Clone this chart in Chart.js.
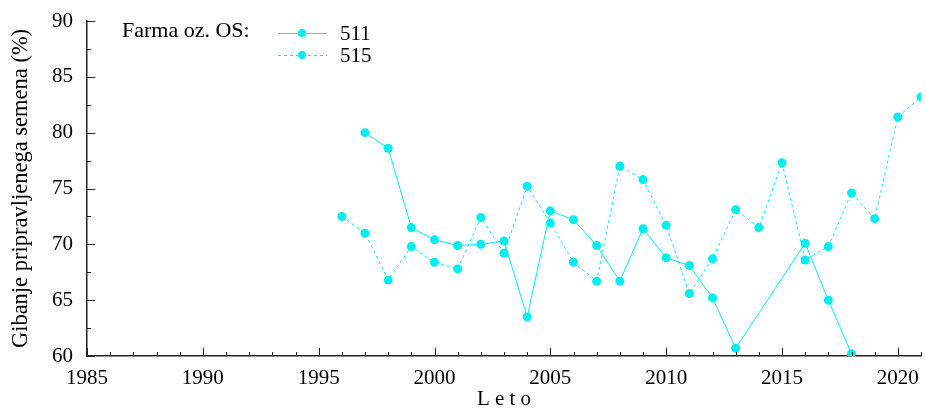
<!DOCTYPE html>
<html>
<head>
<meta charset="utf-8">
<script src="https://cdn.jsdelivr.net/npm/chart.js@4.4.0/dist/chart.umd.min.js"></script>
<style>
  html, body { margin: 0; padding: 0; background: #fff; }
  #wrap { width: 926px; height: 408px; }
</style>
</head>
<body>
<div id="wrap"><canvas id="chart"></canvas></div>
<script>
// Data
const years = [1996, 1997, 1998, 1999, 2000, 2001, 2002, 2003, 2004, 2005, 2006, 2007, 2008,
    2009, 2010, 2011, 2012, 2013, 2014, 2015, 2016, 2017, 2018, 2019, 2020, 2021];
const farm511 = [null, 80.0, 78.6, 71.5, 70.4, 69.9, 70.0, 70.3, 63.5, 73.0, 72.2, 69.9, 66.7,
    71.4, 68.8, 68.1, 65.2, 60.7, null, null, 70.1, 65.0, 60.2, null, null, null];
const farm515 = [72.5, 71.0, 66.8, 69.8, 68.4, 67.8, 72.4, 69.2, 75.2, 71.9, 68.4, 66.7, 77.0,
    75.8, 71.7, 65.6, 68.7, 73.1, 71.5, 77.3, 68.6, 69.8, 74.6, 72.3, 81.4, 83.2];
const seriesLabels = ['511', '515'];
const legendTitle = 'Farma oz. OS:';
const xTicks = [1985, 1990, 1995, 2000, 2005, 2010, 2015, 2020];
const yTicks = [60, 65, 70, 75, 80, 85, 90];

const cyan = '#00eeee';
const axisColor = '#222';
const fontFamily = '"Liberation Serif", "Times New Roman", serif';

function toPoints(values) {
    return years.map((yr, i) => ({ x: yr, y: values[i] }));
}

// inward major and minor tick marks, like the original
const innerTicks = {
    id: 'innerTicks',
    afterDraw(chart) {
        const { ctx, chartArea, scales } = chart;
        ctx.save();
        ctx.strokeStyle = axisColor;
        ctx.lineWidth = 1;
        for (let v = 60; v <= 90; v += 2.5) {
            const y = Math.round(scales.y.getPixelForValue(v)) + 0.5;
            const len = (v % 5 === 0) ? 8 : 4;
            ctx.beginPath();
            ctx.moveTo(chartArea.left, y);
            ctx.lineTo(chartArea.left + len, y);
            ctx.stroke();
        }
        for (let v = 1985; v <= 2021; v += 1) {
            const x = Math.round(scales.x.getPixelForValue(v)) + 0.5;
            const len = (v % 5 === 0) ? 8 : 4;
            ctx.beginPath();
            ctx.moveTo(x, chartArea.bottom);
            ctx.lineTo(x, chartArea.bottom - len);
            ctx.stroke();
        }
        ctx.restore();
    }
};

// gnuplot style key in the top left
const keyBox = {
    id: 'keyBox',
    afterDraw(chart) {
        const { ctx } = chart;
        ctx.save();
        ctx.fillStyle = '#000';
        ctx.textBaseline = 'middle';
        ctx.font = '22px ' + fontFamily;
        ctx.fillText(legendTitle, 122, 31);
        ctx.font = '21px ' + fontFamily;
        const rows = [33, 55];
        chart.data.datasets.forEach((ds, i) => {
            const y = rows[i];
            ctx.strokeStyle = ds.borderColor;
            ctx.lineWidth = 1;
            ctx.setLineDash(ds.borderDash || []);
            ctx.beginPath();
            ctx.moveTo(278, y + 0.5);
            ctx.lineTo(327, y + 0.5);
            ctx.stroke();
            ctx.setLineDash([]);
            ctx.fillStyle = ds.pointBackgroundColor;
            ctx.beginPath();
            ctx.arc(302, y, 4, 0, Math.PI * 2);
            ctx.fill();
            ctx.fillStyle = '#000';
            ctx.fillText(ds.label, 340, y + 1);
        });
        ctx.restore();
    }
};

new Chart(document.getElementById('chart'), {
    type: 'line',
    data: {
        datasets: [{
            label: seriesLabels[0],
            data: toPoints(farm511),
            borderColor: cyan,
            backgroundColor: cyan,
            pointBackgroundColor: cyan,
            pointBorderWidth: 0,
            pointRadius: 4.5,
            borderWidth: 1,
            spanGaps: true,
            tension: 0
        }, {
            label: seriesLabels[1],
            data: toPoints(farm515),
            borderColor: cyan,
            backgroundColor: cyan,
            pointBackgroundColor: cyan,
            pointBorderWidth: 0,
            pointRadius: 4.5,
            borderWidth: 1,
            borderDash: [3, 3],
            tension: 0
        }]
    },
    options: {
        responsive: true,
        maintainAspectRatio: false,
        animation: false,
        layout: { autoPadding: false, padding: { top: 21, right: 5, left: 0, bottom: 0 } },
        plugins: {
            legend: { display: false },
            tooltip: { enabled: false }
        },
        scales: {
            x: {
                type: 'linear',
                min: 1985,
                max: 2021,
                afterBuildTicks: scale => { scale.ticks = xTicks.map(v => ({ value: v })); },
                afterFit: scale => {
                    scale.height = 52;
                    scale.paddingLeft = 0;
                    scale.paddingRight = 0;
                },
                grid: { display: false, drawTicks: false },
                border: { display: true, color: axisColor, width: 1.5 },
                ticks: {
                    color: '#000',
                    padding: 10,
                    maxRotation: 0,
                    font: { family: fontFamily, size: 21 },
                    callback: v => String(v)
                },
                title: {
                    display: true,
                    text: 'L e t o',
                    color: '#000',
                    padding: { top: 0, bottom: -2 },
                    font: { family: fontFamily, size: 21, lineHeight: 1 }
                }
            },
            y: {
                min: 60,
                max: 90,
                afterBuildTicks: scale => { scale.ticks = yTicks.map(v => ({ value: v })); },
                afterFit: scale => {
                    scale.width = 87;
                    scale.paddingTop = 0;
                    scale.paddingBottom = 0;
                },
                grid: { display: false, drawTicks: false },
                border: { display: true, color: axisColor, width: 1.5 },
                ticks: {
                    color: '#000',
                    padding: 14,
                    font: { family: fontFamily, size: 21 }
                },
                title: {
                    display: true,
                    text: 'Gibanje pripravljenega semena (%)',
                    color: '#000',
                    padding: { top: 8, bottom: 0 },
                    font: { family: fontFamily, size: 22.5 }
                }
            }
        }
    },
    plugins: [innerTicks, keyBox]
});
</script>
</body>
</html>
